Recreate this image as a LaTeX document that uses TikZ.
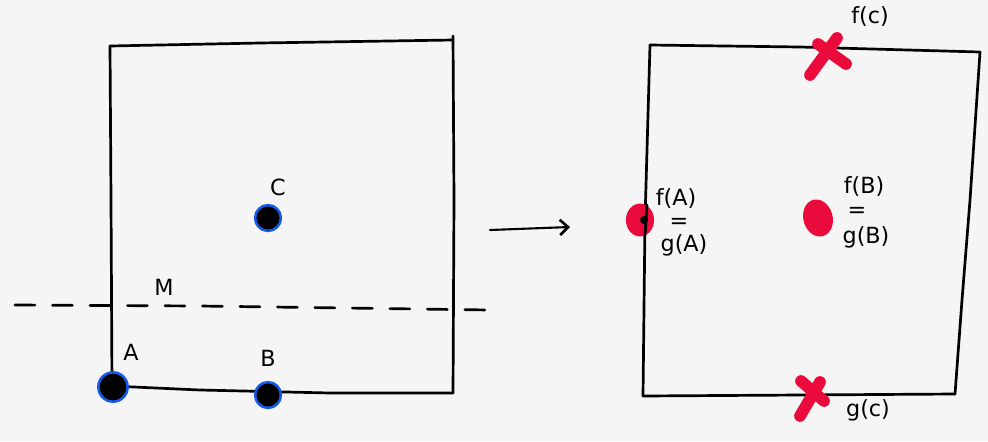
\documentclass[tikz,border=0pt]{standalone}
\usepackage{fontspec}
\setmainfont{DejaVu Sans}
\usetikzlibrary{shapes.geometric,arrows.meta}
\definecolor{bg}{RGB}{245,245,245}
\definecolor{dotblue}{RGB}{20,90,230}
\definecolor{dotred}{RGB}{235,10,60}
\begin{document}
\begin{tikzpicture}[x=0.03cm,y=-0.03cm,
  pen/.style={line width=2.3pt,line cap=round,line join=round,black},
  bluedot/.style={circle,fill=black,draw=dotblue,line width=2.2pt,inner sep=0pt,minimum size=22},
  reddot/.style={ellipse,fill=dotred,inner sep=0pt,minimum width=22,minimum height=26},
  lbl/.style={font=\fontsize{19}{19}\selectfont,inner sep=0pt},
  redx/.style={line width=10pt,line cap=round,draw=dotred}]
\fill[bg] (0,0) rectangle (988,441);
\useasboundingbox (0,0) rectangle (988,441);
% left square
\draw[pen] (110,46) -- (260,43) -- (453,40);
\draw[pen] (453,36) -- (454,200) -- (453,393);
\draw[pen] (110,46) -- (111,200) -- (112,386);
\draw[pen] (112,386) -- (200,390) -- (330,393) -- (453,393);
% dashed line
\draw[pen,dash pattern=on 17pt off 15pt] (15,305) -- (200,306) -- (490,310);
% dots
\node[bluedot] (C) at (268,218) {};
\node[bluedot,minimum size=25] (A) at (113,387) {};
\node[bluedot] (B) at (268,395) {};
\node[lbl] (Cl) at (278,187) {C};
\node[lbl] (Al) at (131,352) {A};
\node[lbl] (Bl) at (268,358) {B};
\node[lbl] (Ml) at (164,287) {M};
% arrow
\coordinate (a1) at (490,230);
\coordinate (a2) at (570,227);
\draw[pen,line width=1.8pt,-{Straight Barb[length=7pt,width=13pt,line width=2.2pt]}] (a1) -- (a2);
% right square
\draw[pen] (650,45) -- (800,47) -- (980,52);
\draw[pen] (980,52) -- (970,200) -- (962,300) -- (955,394);
\draw[pen] (650,45) -- (645,220) -- (643,396);
\draw[pen] (643,396) -- (800,395) -- (955,394);
% red dots
\node[reddot,minimum width=24,minimum height=28] (fA) at (640,220) {};
\draw[pen] (647,205) -- (645,235);
\fill[black] (644,220) circle (4);
\node[reddot,minimum width=25,minimum height=32,rotate=15] (fB) at (818,218) {};
% labels right
\node[lbl] (fAl) at (676,199) {f(A)};
\node[lbl] (eqA) at (679,223) {=};
\node[lbl] (gAl) at (684,245) {g(A)};
\node[lbl] (fBl) at (864,187) {f(B)};
\node[lbl] (eqB) at (857,212) {=};
\node[lbl] (gBl) at (866,237) {g(B)};
% red crosses
\draw[redx] (810,75) -- (837,38) (818,44) -- (846,64);
\draw[redx] (800,416) -- (820,382) (801,381) -- (824,401);
\node[lbl] (fCl) at (870,17) {f(c)};
\node[lbl] (gCl) at (868,410) {g(c)};
\end{tikzpicture}
\end{document}
